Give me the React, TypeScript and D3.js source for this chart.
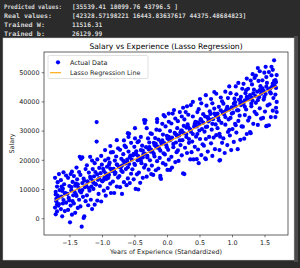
import React from "react";
import * as d3 from "d3";

const consoleLabels = ["Predicted values:", "Real values:", "Trained W:", "Trained b:"];
const consoleLabelWidths = [58, 48, 41, 41];
const consoleValues = [
  "[35539.41 18099.76 43796.5 ]",
  "[42328.57198221 16443.83637617 44375.48684823]",
  "11516.31",
  "26129.99",
];
const trainedW = 11516.31;
const trainedB = 26129.99;
const lineX = [-1.73, 1.68];
const xTicks = [-1.5, -1.0, -0.5, 0.0, 0.5, 1.0, 1.5];
const yTicks = [0, 10000, 20000, 30000, 40000, 50000];

const points: [number, number][] = [
  [-1.72,1500],[-1.70,2500],[-1.73,3800],[-1.67,5000],[-1.71,6000],[-1.68,7200],[-1.72,8300],[-1.66,9800],[-1.70,11000],[-1.69,12500],[-1.73,14000],[-1.67,15300],[-1.68,4500],[-1.71,6800],
  [-1.62,800],[-1.58,2600],[-1.64,3300],[-1.56,5500],[-1.60,6400],[-1.63,7600],[-1.57,8800],[-1.61,10300],[-1.59,11800],[-1.64,13200],[-1.56,14800],[-1.60,15900],[-1.62,9500],
  [-1.50,-1250],[-1.47,1370],[-1.53,3000],[-1.49,4500],[-1.46,6000],[-1.52,7100],[-1.54,8500],[-1.48,9700],[-1.51,11200],[-1.46,12600],[-1.53,14000],[-1.49,15300],[-1.47,16100],
  [-1.42,2000],[-1.38,3700],[-1.44,5200],[-1.36,6500],[-1.40,7800],[-1.43,9200],[-1.37,10600],[-1.41,12000],[-1.39,13500],[-1.44,14600],[-1.36,16000],[-1.40,17500],[-1.42,11300],
  [-1.32,-2740],[-1.29,240],[-1.28,800],[-1.34,4200],[-1.26,6000],[-1.30,7500],[-1.33,9000],[-1.27,10800],[-1.31,12200],[-1.29,13700],[-1.34,15000],[-1.26,17000],[-1.33,20500],[-1.31,21000],[-1.35,21200],
  [-1.16,3300],[-1.22,4600],[-1.18,6500],[-1.24,8000],[-1.20,9600],[-1.17,11000],[-1.23,12800],[-1.19,14300],[-1.21,15800],[-1.15,17000],[-1.16,19900],[-1.19,21200],[-1.24,18300],
  [-1.09,33100],[-1.09,26400],[-1.08,6200],[-1.12,4800],[-1.06,8500],[-1.14,10200],[-1.10,11700],[-1.07,13300],[-1.13,14500],[-1.11,16000],[-1.05,17400],[-1.12,19000],[-1.08,20300],[-1.14,12300],
  [-0.95,7900],[-1.02,5900],[-0.98,9600],[-1.04,11200],[-1.00,12800],[-0.97,14000],[-1.03,15600],[-0.99,17100],[-1.01,18500],[-0.96,20000],[-1.02,21500],[-0.96,23500],[-0.98,13300],
  [-0.87,8800],[-0.92,10500],[-0.88,12000],[-0.94,13600],[-0.90,15000],[-0.86,16400],[-0.93,17800],[-0.89,19200],[-0.91,20600],[-0.87,22700],[-0.88,24900],[-0.93,14700],[-0.90,18500],
  [-0.82,8800],[-0.78,11000],[-0.84,12700],[-0.76,14100],[-0.80,15700],[-0.83,17100],[-0.77,18400],[-0.81,19900],[-0.79,21300],[-0.84,22800],[-0.76,24100],[-0.78,26900],[-0.82,16200],
  [-0.70,8500],[-0.73,10800],[-0.67,12500],[-0.74,14600],[-0.69,16000],[-0.72,17500],[-0.66,19000],[-0.71,20500],[-0.68,22100],[-0.73,23600],[-0.66,25000],[-0.67,26800],[-0.70,18200],
  [-0.63,11500],[-0.58,12200],[-0.61,13800],[-0.56,15400],[-0.64,17000],[-0.59,18700],[-0.62,20200],[-0.57,21600],[-0.60,23000],[-0.64,24500],[-0.56,26000],[-0.60,28000],[-0.61,29300],[-0.59,29100],[-0.62,19600],
  [-0.45,10000],[-0.49,10200],[-0.52,13500],[-0.47,15200],[-0.54,16900],[-0.50,18400],[-0.46,20000],[-0.53,21700],[-0.48,23100],[-0.51,24600],[-0.46,26200],[-0.50,27500],[-0.50,31000],[-0.52,22200],
  [-0.42,12300],[-0.38,14000],[-0.44,15800],[-0.36,17500],[-0.40,19000],[-0.43,20600],[-0.37,22100],[-0.41,23500],[-0.39,25000],[-0.44,26600],[-0.41,28000],[-0.35,32800],[-0.36,33800],[-0.38,21000],
  [-0.32,14400],[-0.25,15300],[-0.29,16800],[-0.34,18400],[-0.27,20000],[-0.31,21500],[-0.26,23000],[-0.33,24500],[-0.28,26100],[-0.30,27500],[-0.26,29200],[-0.32,31000],[-0.34,33700],[-0.29,23800],
  [-0.22,15000],[-0.18,16600],[-0.24,18200],[-0.16,19700],[-0.20,21300],[-0.23,22900],[-0.17,24400],[-0.21,26000],[-0.19,27600],[-0.24,29000],[-0.17,30500],[-0.16,33100],[-0.16,34100],[-0.20,25200],
  [-0.10,13600],[-0.11,14000],[-0.11,14700],[-0.14,17200],[-0.07,19000],[-0.12,20800],[-0.06,22400],[-0.13,24000],[-0.09,25600],[-0.14,27100],[-0.07,28800],[-0.12,30300],[-0.08,32500],[-0.06,35500],[-0.10,26300],
  [0.00,16700],[0.04,16700],[-0.03,18500],[0.02,20200],[-0.04,22000],[0.01,23600],[-0.02,25200],[0.03,26800],[-0.01,28400],[0.04,30000],[-0.03,31600],[0.02,33200],[-0.04,35000],[0.02,36000],[0.00,27500],
  [0.07,17500],[0.12,19400],[0.06,21200],[0.14,22800],[0.09,24500],[0.13,26100],[0.07,27800],[0.11,29400],[0.15,31000],[0.06,32600],[0.12,34300],[0.08,36000],[0.10,37200],[0.14,28700],
  [0.24,15500],[0.17,19800],[0.22,21700],[0.16,23400],[0.20,25200],[0.23,26900],[0.18,28500],[0.21,30200],[0.25,31800],[0.16,33400],[0.22,35000],[0.19,36500],[0.24,38000],[0.20,29600],
  [0.26,15300],[0.35,20300],[0.30,22500],[0.27,24300],[0.33,26000],[0.33,27300],[0.29,29000],[0.34,30700],[0.31,32300],[0.26,34000],[0.32,35600],[0.28,36500],[0.30,38500],[0.29,31200],
  [0.40,20300],[0.45,20400],[0.37,22800],[0.42,24600],[0.38,26400],[0.44,28100],[0.36,29800],[0.41,31500],[0.43,33200],[0.39,35000],[0.46,36500],[0.36,38900],[0.39,40000],[0.42,32200],
  [0.48,19000],[0.52,21800],[0.47,23700],[0.54,25500],[0.50,27300],[0.46,29000],[0.53,30700],[0.49,32400],[0.51,34100],[0.55,35800],[0.48,37500],[0.52,39500],[0.50,41000],[0.47,33000],
  [0.58,20700],[0.59,20400],[0.62,23000],[0.56,25000],[0.59,27300],[0.64,28000],[0.57,29800],[0.61,31500],[0.63,33300],[0.58,35000],[0.65,36800],[0.60,38700],[0.59,42300],[0.62,34500],
  [0.69,21500],[0.73,23800],[0.67,25800],[0.71,27800],[0.75,28600],[0.68,30500],[0.74,32300],[0.70,34100],[0.66,35900],[0.72,37700],[0.69,39500],[0.67,41000],[0.72,43400],[0.74,35500],
  [0.80,19900],[0.81,20100],[0.80,23500],[0.84,26000],[0.81,28100],[0.80,29100],[0.77,31000],[0.83,32800],[0.78,34700],[0.85,36500],[0.79,38300],[0.84,40200],[0.75,42800],[0.82,41500],[0.77,36000],
  [0.88,22500],[0.92,25200],[0.86,27500],[0.93,29700],[0.95,30400],[0.89,32200],[0.94,34000],[0.87,35800],[0.91,37600],[0.86,39400],[0.93,41300],[0.89,43500],[0.95,45300],[0.90,37000],
  [0.98,23500],[1.02,26300],[0.96,28500],[1.00,30700],[1.05,32000],[1.04,32500],[0.97,34500],[1.01,36300],[0.99,38100],[1.04,39900],[1.03,41100],[0.97,43000],[1.05,45300],[1.00,38000],
  [1.08,23800],[1.12,27000],[1.06,29500],[1.14,31600],[1.09,33500],[1.11,35300],[1.07,37100],[1.13,38900],[1.10,40700],[1.13,41700],[1.06,42600],[1.15,44500],[1.09,46500],[1.12,39400],
  [1.18,27400],[1.22,29000],[1.16,31500],[1.24,33600],[1.19,35500],[1.21,37400],[1.17,39300],[1.23,41200],[1.20,43000],[1.21,44000],[1.24,44500],[1.17,46200],[1.22,48000],[1.19,40500],
  [1.27,29700],[1.28,29300],[1.32,32500],[1.26,34600],[1.34,36600],[1.29,38500],[1.31,40400],[1.27,42300],[1.33,44200],[1.30,46000],[1.28,47300],[1.34,48200],[1.31,49500],[1.29,41500],
  [1.39,32100],[1.44,34250],[1.37,35800],[1.42,37800],[1.36,39700],[1.41,41600],[1.38,43500],[1.43,45400],[1.40,47200],[1.36,49000],[1.42,50500],[1.39,51600],[1.44,42800],
  [1.53,31800],[1.52,31700],[1.47,34500],[1.50,36700],[1.54,38800],[1.48,40800],[1.51,42700],[1.46,44600],[1.53,46500],[1.46,47400],[1.52,48500],[1.49,50000],[1.51,52000],[1.48,43800],
  [1.56,32000],[1.59,34800],[1.62,37000],[1.57,39200],[1.63,41300],[1.58,43300],[1.61,45300],[1.64,47200],[1.60,49100],[1.56,50200],[1.60,52000],[1.62,51000],[1.64,54250],[1.58,44600],
  [1.66,34800],[1.68,36500],[1.67,38000],[1.68,40000],[1.66,42500],[1.67,44800],[1.67,46800],[1.68,49200],[1.66,47500],
  [-1.70,4900],[-1.69,7900],[-1.72,9200],[-1.61,5200],[-1.58,8600],[-1.63,11000],[-1.51,6300],[-1.48,10800],[-1.45,8000],
  [-1.41,8400],[-1.38,11800],[-1.35,9500],[-1.31,9800],[-1.28,13000],[-1.25,11400],[-1.21,10500],[-1.18,13800],[-1.15,12900],
  [-1.11,11900],[-1.08,15200],[-1.05,13900],[-1.01,13000],[-0.98,16300],[-0.95,15500],[-0.91,14000],[-0.88,17200],[-0.85,16600],
  [-0.81,15300],[-0.78,18600],[-0.75,17800],[-0.71,16400],[-0.68,19800],[-0.65,18900],[-0.61,17600],[-0.58,21000],[-0.55,20200],
  [-0.51,18800],[-0.48,22000],[-0.45,21400],[-0.41,19900],[-0.38,23300],[-0.35,22300],[-0.31,21000],[-0.28,24500],[-0.25,23600],
  [-0.21,22200],[-0.18,25600],[-0.15,24700],[-0.11,23300],[-0.08,26800],[-0.05,25900],[-0.01,24500],[0.02,28000],[0.05,27000],
  [0.09,25600],[0.12,29000],[0.15,28200],[0.19,26800],[0.22,30200],[0.25,29300],[0.29,28000],[0.32,31400],[0.35,30500],
  [0.39,29000],[0.42,32500],[0.45,31600],[0.49,30200],[0.52,33700],[0.55,32900],[0.59,31400],[0.62,34800],[0.65,33900],
  [0.69,32500],[0.72,36000],[0.75,35100],[0.79,33700],[0.82,37100],[0.85,36300],[0.89,34800],[0.92,38300],[0.95,37400],
  [0.99,36000],[1.02,39400],[1.05,38600],[1.09,37100],[1.12,40600],[1.15,39700],[1.19,38300],[1.22,41700],[1.25,40900],
  [1.29,39400],[1.32,42900],[1.35,42000],[1.39,40600],[1.42,44000],[1.45,43200],[1.49,41700],[1.52,45200],[1.55,44300],
  [1.59,42900],[1.62,46300],[1.65,45500],
];

const W = 300;
const H = 268;
const left = 44, right = 288, top = 52, bottom = 235;

export default function App() {
  const x = d3.scaleLinear().domain([-1.9, 1.854]).range([left, right]);
  const y = d3.scaleLinear().domain([-5580, 57090]).range([bottom, top]);
  const line = d3
    .line<number>()
    .x((d) => x(d))
    .y((d) => y(trainedB + trainedW * d));
  const fmtX = (v: number) => (v < 0 ? "\u2212" : "") + Math.abs(v).toFixed(1);
  const font = "DejaVu Sans, sans-serif";
  const mono = "DejaVu Sans Mono, monospace";
  const cy = (top + bottom) / 2;
  const cx = (left + right) / 2;
  return (
    <svg
      width={W}
      height={H}
      style={{ position: "absolute", left: 0, top: 0, display: "block" }}
      xmlns="http://www.w3.org/2000/svg"
    >
      <rect x={0} y={0} width={W} height={H} fill="#2b2b2b" />
      <rect x={294} y={36} width={4} height={226} fill="#4a4a4a" />
      {consoleLabels.map((lab, i) => (
        <g key={lab} fontFamily={mono} fontSize={6.3} fill="#d6d6d6" fontWeight="bold">
          <text x={4} y={9.3 + i * 9} textLength={consoleLabelWidths[i]} lengthAdjust="spacingAndGlyphs">{lab}</text>
          <text x={72} y={9.3 + i * 9}>{consoleValues[i]}</text>
        </g>
      ))}
      <rect x={3} y={38} width={291} height={222} fill="#ffffff" stroke="#d0d0d0" strokeWidth={0.5} />
      <text x={cx} y={49} textAnchor="middle" fontFamily={font} fontSize={7.6} fill="#000">
        Salary vs Experience (Lasso Regression)
      </text>
      <g>
        {points.map((p, i) => (
          <circle key={i} cx={x(p[0])} cy={y(p[1])} r={2.1} fill="#0000ff" />
        ))}
      </g>
      <path d={line(lineX) || ""} stroke="#ffa500" strokeWidth={1.1} fill="none" />
      <rect x={left} y={top} width={right - left} height={bottom - top} fill="none" stroke="#222" strokeWidth={0.7} />
      {yTicks.map((t) => (
        <g key={t}>
          <line x1={left - 2.3} x2={left} y1={y(t)} y2={y(t)} stroke="#222" strokeWidth={0.6} />
          <text x={left - 4.5} y={y(t)} dy="0.35em" textAnchor="end" fontFamily={font} fontSize={6.4} fill="#222">
            {t}
          </text>
        </g>
      ))}
      {xTicks.map((t) => (
        <g key={t}>
          <line x1={x(t)} x2={x(t)} y1={bottom} y2={bottom + 2.3} stroke="#222" strokeWidth={0.6} />
          <text x={x(t)} y={bottom + 10} textAnchor="middle" fontFamily={font} fontSize={6.4} fill="#222">
            {fmtX(t)}
          </text>
        </g>
      ))}
      <text x={cx} y={254} textAnchor="middle" fontFamily={font} fontSize={6.4} fill="#222">
        Years of Experience (Standardized)
      </text>
      <text
        transform={`translate(13.5,${cy}) rotate(-90)`}
        textAnchor="middle"
        fontFamily={font}
        fontSize={6.4}
        fill="#222"
      >
        Salary
      </text>
      <g>
        <rect x={48} y={55.5} width={100} height={23} rx={1.5} fill="#ffffff" fillOpacity={0.8} stroke="#cccccc" strokeWidth={0.6} />
        <circle cx={58} cy={62.3} r={2.1} fill="#0000ff" />
        <text x={70} y={62.3} dy="0.35em" fontFamily={font} fontSize={6.4} fill="#222">Actual Data</text>
        <line x1={50} x2={61} y1={72.7} y2={72.7} stroke="#ffa500" strokeWidth={1.1} />
        <text x={70} y={72.7} dy="0.35em" fontFamily={font} fontSize={6.4} fill="#222">Lasso Regression Line</text>
      </g>
    </svg>
  );
}
